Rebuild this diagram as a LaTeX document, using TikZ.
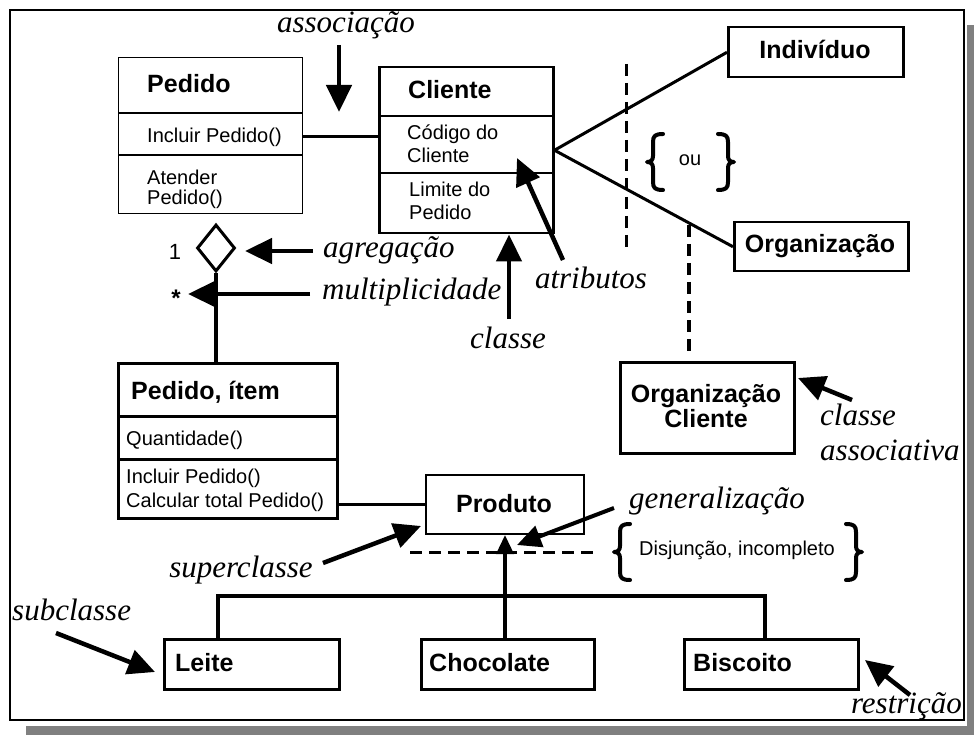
\documentclass[tikz,border=0pt]{standalone}
\usepackage{fontspec}
\setmainfont{Liberation Serif}
\newfontfamily\umlfont{Liberation Sans}
\usetikzlibrary{arrows.meta,shapes.geometric}

\definecolor{shadowgray}{RGB}{128,128,128}

\tikzset{
  x=1pt, y=-1pt,
  classbox/.style={draw, line width=2.5pt, inner sep=0pt, anchor=north west},
  thinbox/.style={classbox, line width=1.2pt},
  clsname/.style={font=\umlfont\bfseries\fontsize{25}{25}\selectfont, inner sep=0pt, anchor=base west},
  attr/.style={font=\umlfont\fontsize{20}{23}\selectfont, inner sep=0pt, anchor=base west},
  note/.style={font=\itshape\fontsize{31}{34}\selectfont, inner sep=0pt, anchor=base},
  assoc/.style={line width=3pt},
  pointer/.style={line width=4.5pt, -{Triangle[length=27pt,width=25pt]}},
  smallpointer/.style={line width=4pt, -{Triangle[length=24pt,width=22pt]}},
  dashline/.style={line width=3pt, dash pattern=on 12pt off 7pt},
  bracestroke/.style={line width=4pt, line cap=round, line join=round},
  bracemark/.pic={
    \draw[bracestroke] (10,-28) .. controls (2,-28) and (0,-26) .. (0,-20) -- (0,-6)
      .. controls (0,-2) and (-2,0) .. (-6,0) .. controls (-2,0) and (0,2) .. (0,6)
      -- (0,20) .. controls (0,26) and (2,28) .. (10,28);
  }
}

\begin{document}
\begin{tikzpicture}
\useasboundingbox (0,0) rectangle (974,735);
\fill[white] (0,0) rectangle (974,735);

% page frame with its drop shadow
\fill[shadowgray] (967,25) rectangle (974,735);
\fill[shadowgray] (26,726) rectangle (974,735);
\draw[line width=2pt] (10,10) rectangle (964,720);

% ---- classes ----
\node[thinbox, minimum width=184pt, minimum height=156pt] (pedido) at (118,57) {};
\draw[line width=1.2pt] (118,113) -- (302,113) (118,155) -- (302,155);
\node[clsname] (pedidoT) at (147,93) {Pedido};
\node[attr] (pedidoA) at (147,143) {Incluir Pedido()};
\node[attr] (pedidoB) at (147,185) {Atender};
\node[attr] (pedidoC) at (147,205) {Pedido()};

\node[classbox, minimum width=174pt, minimum height=166pt] (cliente) at (378,66) {};
\draw[line width=2pt] (378,116) -- (552,116) (378,173) -- (552,173);
\node[clsname] (clienteT) at (408,99) {Cliente};
\node[attr] (clienteA) at (407,140) {Código do};
\node[attr] (clienteB) at (407,163) {Cliente};
\node[attr] (clienteC) at (409,197) {Limite do};
\node[attr] (clienteD) at (409,220) {Pedido};

\node[classbox, minimum width=175pt, minimum height=50pt] (individuo) at (727,26) {};
\node[clsname, anchor=base] (individuoT) at (815,59) {Indivíduo};

\node[classbox, minimum width=174pt, minimum height=49pt] (organizacao) at (733,221) {};
\node[clsname, anchor=base] (organizacaoT) at (820,253) {Organização};

\node[classbox, minimum width=174pt, minimum height=91pt] (orgcliente) at (619,361) {};
\node[clsname, anchor=center, align=center] (orgclienteT) at (706,406) {Organização\\Cliente};

\node[classbox, line width=3pt, minimum width=219pt, minimum height=155pt] (item) at (117,362) {};
\draw[line width=3pt] (117,416) -- (336,416) (117,459) -- (336,459);
\node[clsname] (itemT) at (131,399) {Pedido, ítem};
\node[attr] (itemA) at (126,445) {Quantidade()};
\node[attr] (itemB) at (126,483) {Incluir Pedido()};
\node[attr] (itemC) at (126,507) {Calcular total Pedido()};

\node[classbox, line width=2pt, minimum width=158pt, minimum height=59pt] (produto) at (425,474) {};
\node[clsname, anchor=base] (produtoT) at (504,512) {Produto};

\node[classbox, minimum width=175pt, minimum height=50pt] (leite) at (163,638) {};
\node[clsname] (leiteT) at (175,671) {Leite};
\node[classbox, minimum width=173pt, minimum height=50pt] (chocolate) at (420,638) {};
\node[clsname] (chocolateT) at (429,671) {Chocolate};
\node[classbox, minimum width=174pt, minimum height=50pt] (biscoito) at (683,638) {};
\node[clsname] (biscoitoT) at (693,671) {Biscoito};

% ---- associations ----
\coordinate (assocY) at (0,137);
\draw[assoc] (pedido.east |- assocY) -- (cliente.west |- assocY);
\draw[assoc] (cliente.east) -- (individuo.west);
\draw[assoc] (cliente.east) -- (organizacao.west);
\draw[assoc] (item.east |- produto.west) -- (produto.west);

% aggregation with multiplicities
\node[draw, diamond, line width=3pt, inner sep=0pt, minimum width=38pt, minimum height=47pt, fill=white] (agg) at (216,248) {};
\draw[line width=4pt] (agg.south) -- (agg.south |- item.north);
\node[font=\umlfont\fontsize{22}{22}\selectfont, inner sep=0pt] (mult1) at (175,252) {1};
\node[font=\umlfont\bfseries\fontsize{24}{24}\selectfont, inner sep=0pt] (multN) at (176,298) {*};

% "ou" constraint between the two associations
\coordinate (orTop) at (626,64);
\coordinate (orBot) at (626,247);
\draw[dashline] (orTop) -- (orBot);
\pic at (653,162) {bracemark};
\pic[xscale=-1] at (728,162) {bracemark};
\node[attr, anchor=center] (ouT) at (690,160) {ou};

% association class link
\coordinate (acls) at (689,225);
\draw[dashline, line width=4pt, shorten >=9pt] (acls) -- (acls |- orgcliente.north);

% ---- generalization ----
\coordinate (treeL) at (218,596);
\coordinate (treeR) at (765,596);
\draw[line width=4pt] (treeL |- leite.north) -- (treeL) -- (treeR) -- (treeR |- biscoito.north);
\draw[line width=3.5pt, -{Triangle[length=19pt,width=17pt]}] (produto.south |- chocolate.north) -- (produto.south);
\coordinate (disjL) at (410,552);
\coordinate (disjR) at (594,552);
\draw[dashline] (disjL) -- (disjR);
\pic at (620,552) {bracemark};
\pic[xscale=-1] at (856,552) {bracemark};
\node[attr, anchor=center] (disjT) at (737,550) {Disjunção, incompleto};

% ---- annotations ----
\node[note] (nAssoc) at (346,33) {associação};
\coordinate (aAssocT) at (339,45);
\coordinate (aAssocH) at (339,112);
\draw[pointer] (aAssocT) -- (aAssocH);

\node[note, anchor=base west] (nAgreg) at (323,258) {agregação};
\coordinate (aAgregT) at (313,251);
\coordinate (aAgregH) at (245,251);
\draw[pointer] (aAgregT) -- (aAgregH);

\node[note, anchor=base west] (nMult) at (322,299) {multiplicidade};
\coordinate (aMultT) at (310,294);
\coordinate (aMultH) at (188,294);
\draw[pointer] (aMultT) -- (aMultH);

\node[note] (nClasse) at (508,348) {classe};
\coordinate (aClasseT) at (509,319);
\draw[pointer] (aClasseT) -- (aClasseT |- cliente.south);

\node[note] (nAtrib) at (591,288) {atributos};
\coordinate (aAtribT) at (563,260);
\coordinate (aAtribH) at (517,158);
\draw[pointer] (aAtribT) -- (aAtribH);

\node[note, anchor=base west] (nAssocA) at (820,425) {classe};
\node[note, anchor=base west] (nAssocB) at (820,460) {associativa};
\coordinate (aAcT) at (852,400);
\coordinate (aAcH) at (798,378);
\draw[pointer] (aAcT) -- (aAcH);

\node[note, anchor=base west] (nGen) at (629,508) {generalização};
\coordinate (aGenT) at (614,508);
\coordinate (aGenH) at (517,545);
\draw[smallpointer] (aGenT) -- (aGenH);

\node[note] (nSuper) at (241,577) {superclasse};
\coordinate (aSuperT) at (323,563);
\coordinate (aSuperH) at (421,526);
\draw[pointer] (aSuperT) -- (aSuperH);

\node[note, anchor=base west] (nSub) at (12,620) {subclasse};
\coordinate (aSubT) at (56,633);
\coordinate (aSubH) at (155,672);
\draw[pointer] (aSubT) -- (aSubH);

\node[note, anchor=base east] (nRestr) at (962,713) {restrição};
\coordinate (aRestrT) at (910,695);
\coordinate (aRestrH) at (865,660);
\draw[pointer] (aRestrT) -- (aRestrH);
\end{tikzpicture}
\end{document}
